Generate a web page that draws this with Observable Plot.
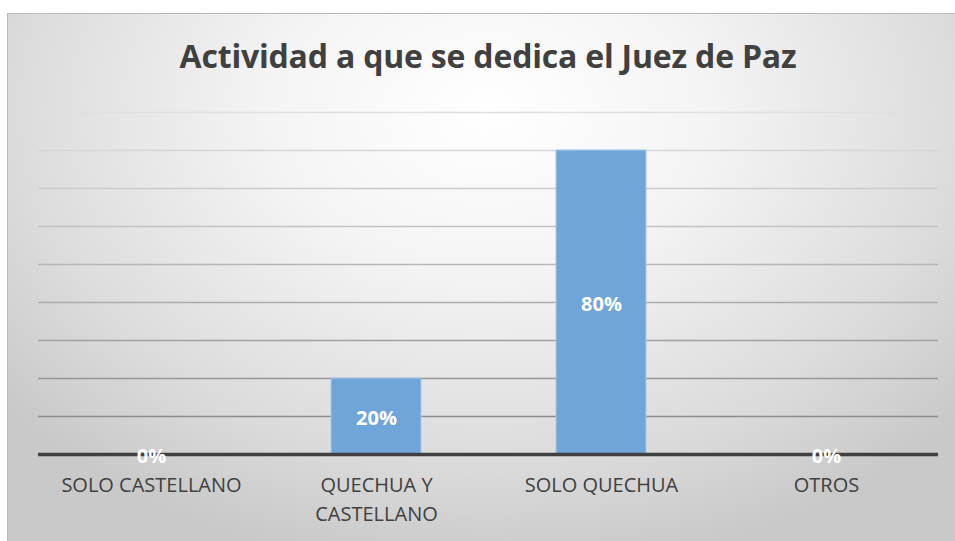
<!DOCTYPE html>
<html>
<head>
<meta charset="utf-8">
<script src="https://cdn.jsdelivr.net/npm/d3@7"></script>
<script src="https://cdn.jsdelivr.net/npm/@observablehq/plot@0.6"></script>
<style>
  html, body { margin: 0; padding: 0; background: #fff; width: 955px; height: 541px; overflow: hidden; }
  #frame {
    position: absolute; left: 7px; top: 13px; width: 960px; height: 540px;
    border-top: 1px solid #b8b8b8; border-left: 1px solid #b8b8b8;
    background: radial-gradient(ellipse 65% 85% at 50% 18%, #ffffff 0%, #f4f4f4 35%, #dcdcdc 75%, #c9c9c9 100%);
  }
  #title {
    position: absolute; left: 0; top: 34px; width: 976px; text-align: center;
    font-family: "Open Sans", sans-serif; font-weight: bold; font-size: 32px; color: #404040;
    letter-spacing: -0.2px;
  }
  #chart { position: absolute; left: 0; top: 95px; }
</style>
</head>
<body>
<div id="frame"></div>
<div id="title">Actividad a que se dedica el Juez de Paz</div>
<div id="chart"></div>
<script>
const categories = ["SOLO CASTELLANO", "QUECHUA Y CASTELLANO", "SOLO QUECHUA", "OTROS"];
const tickLabels = ["SOLO CASTELLANO", "QUECHUA Y\nCASTELLANO", "SOLO QUECHUA", "OTROS"];
const values = [0, 0.2, 0.8, 0];
const gridTicks = [0.1, 0.2, 0.3, 0.4, 0.5, 0.6, 0.7, 0.8, 0.9];

const data = categories.map((c, i) => ({category: c, value: values[i]}));
const labelOf = new Map(categories.map((c, i) => [c, tickLabels[i]]));
const gridColor = d3.scaleLinear().domain([0.1, 0.9]).range(["#8c8c8c", "#e0e0e0"]);

const chart = Plot.plot({
  width: 955,
  height: 446,
  marginLeft: 38,
  marginRight: 17,
  marginTop: 17,
  marginBottom: 87,
  style: {background: "transparent", fontFamily: "Open Sans, sans-serif"},
  x: {domain: categories, paddingInner: 0.6, paddingOuter: 0.3, label: null},
  y: {domain: [0, 0.9], label: null},
  marks: [
    Plot.ruleY(gridTicks, {stroke: d => gridColor(d), strokeWidth: 1.3}),
    Plot.barY(data, {x: "category", y: "value", fill: "#6fa5d8", stroke: "#a8cbea", strokeWidth: 1}),
    Plot.ruleY([0], {stroke: "#404040", strokeWidth: 3.5}),
    Plot.text(data, {x: "category", y: d => d.value / 2, text: d => Math.round(d.value * 100) + "%",
      fill: "white", fontWeight: "bold", fontSize: 20, dy: 2}),
    Plot.axisX({tickSize: 0, tickPadding: 17, fontSize: 20, lineHeight: 1.45,
      tickFormat: d => labelOf.get(d), fill: "#404040"}),
    Plot.axisY({ticks: [], tickSize: 0, label: null})
  ]
});
document.getElementById("chart").appendChild(chart);
</script>
</body>
</html>
